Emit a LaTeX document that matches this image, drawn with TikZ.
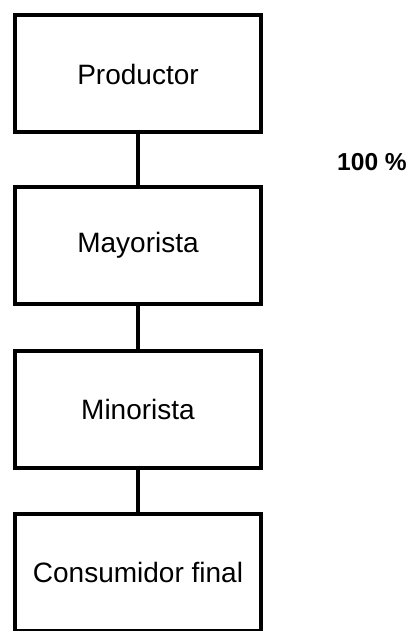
\documentclass[tikz,border=0pt]{standalone}
\usepackage{fontspec}
\setmainfont{Liberation Sans}
\usetikzlibrary{positioning}

\tikzset{
  canal/.style={draw, line width=3pt, minimum width=184.5pt, minimum height=87.75pt,
    inner sep=0pt, font=\fontsize{21}{24}\selectfont},
  enlace/.style={line width=3pt}
}

\begin{document}
\begin{tikzpicture}[x=0.75pt, y=-0.75pt]
\useasboundingbox (0,0) rectangle (409,631);
% cajas del canal
\node[canal] (productor) at (138,74) {Productor};
\node[canal] (mayorista) at (138,245.5) {Mayorista};
\node[canal] (minorista) at (138,409) {Minorista};
\node[canal] (consumidor) at (138,572) {Consumidor final};
% lineas
\draw[enlace] (productor.south) -- (mayorista.north);
\draw[enlace] (mayorista.south) -- (minorista.north);
\draw[enlace] (minorista.south) -- (consumidor.north);
% porcentaje
\node[font=\fontsize{18.4}{20}\selectfont\bfseries] (porcentaje) at (372,162) {100 \%};
\end{tikzpicture}
\end{document}
